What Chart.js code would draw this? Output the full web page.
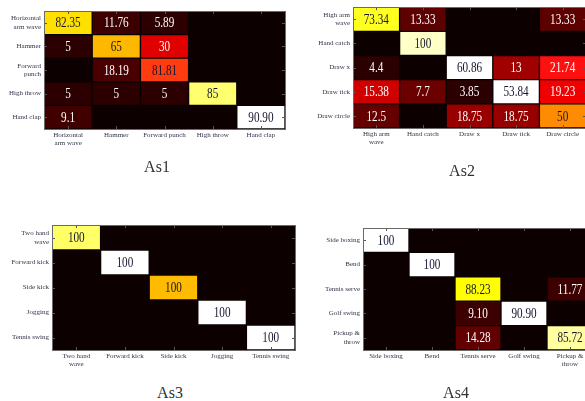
<!DOCTYPE html>
<html>
<head>
<meta charset="utf-8">
<script src="https://cdn.jsdelivr.net/npm/chart.js@4/dist/chart.umd.min.js"></script>
<style>
  html, body { margin: 0; padding: 0; background: #fff; width: 585px; height: 401px; overflow: hidden; position: relative; }
  canvas { position: absolute; }
  .caption { position: absolute; font-family: "Liberation Serif", serif; font-size: 16px; color: #333; transform: translateX(-50%); line-height: 1; }
</style>
</head>
<body>
<canvas id="as1" width="305" height="160" style="left:0;top:0"></canvas>
<canvas id="as2" width="310" height="160" style="left:300px;top:0"></canvas>
<canvas id="as3" width="310" height="165" style="left:0;top:212px"></canvas>
<canvas id="as4" width="310" height="165" style="left:300px;top:212px"></canvas>
<div class="caption" style="left:157px;top:159px">As1</div>
<div class="caption" style="left:462px;top:163px">As2</div>
<div class="caption" style="left:170px;top:385px">As3</div>
<div class="caption" style="left:456px;top:385px">As4</div>
<script>
// --- As1 ---
const as1Rows = [['Horizontal', 'arm wave'], 'Hammer', ['Forward', 'punch'], 'High throw', 'Hand clap'];
const as1Cols = [['Horizontal', 'arm wave'], 'Hammer', 'Forward punch', 'High throw', 'Hand clap'];
const as1Values = [
  ['82.35', '11.76', '5.89', '', ''],
  ['5', '65', '30', '', ''],
  ['', '18.19', '81.81', '', ''],
  ['5', '5', '5', '85', ''],
  ['9.1', '', '', '', '90.90']
];
const as1Colors = [
  ['#ffe000', '#3c0000', '#2c0000', null, null],
  ['#2c0000', '#ffb800', '#e00000', null, null],
  [null, '#4a0000', '#ff3c10', null, null],
  ['#2c0000', '#2c0000', '#2c0000', '#ffff70', null],
  ['#400000', null, null, null, '#ffffff']
];

// --- As2 ---
const as2Rows = [['High arm', 'wave'], 'Hand catch', 'Draw x', 'Draw tick', 'Draw circle'];
const as2Cols = [['High arm', 'wave'], 'Hand catch', 'Draw x', 'Draw tick', 'Draw circle'];
const as2Values = [
  ['73.34', '13.33', '', '', '13.33'],
  ['', '100', '', '', ''],
  ['4.4', '', '60.86', '13', '21.74'],
  ['15.38', '7.7', '3.85', '53.84', '19.23'],
  ['12.5', '', '18.75', '18.75', '50']
];
const as2Colors = [
  ['#ffff20', '#5c0000', null, null, '#5c0000'],
  [null, '#ffffc8', null, null, null],
  ['#2a0000', null, '#ffffff', '#a00000', '#ff1010'],
  ['#d00000', '#6a0000', '#2a0000', '#ffffff', '#f00000'],
  ['#640000', null, '#980000', '#980000', '#ff8c00']
];

// --- As3 ---
const as3Rows = [['Two hand', 'wave'], 'Forward kick', 'Side kick', 'Jogging', 'Tennis swing'];
const as3Cols = [['Two hand', 'wave'], 'Forward kick', 'Side kick', 'Jogging', 'Tennis swing'];
const as3Values = [
  ['100', '', '', '', ''],
  ['', '100', '', '', ''],
  ['', '', '100', '', ''],
  ['', '', '', '100', ''],
  ['', '', '', '', '100']
];
const as3Colors = [
  ['#ffff66', null, null, null, null],
  [null, '#ffffff', null, null, null],
  [null, null, '#ffbb00', null, null],
  [null, null, null, '#ffffff', null],
  [null, null, null, null, '#ffffff']
];

// --- As4 ---
const as4Rows = ['Side boxing', 'Bend', 'Tennis serve', 'Golf swing', ['Pickup &', 'throw']];
const as4Cols = ['Side boxing', 'Bend', 'Tennis serve', 'Golf swing', ['Pickup &', 'throw']];
const as4Values = [
  ['100', '', '', '', ''],
  ['', '100', '', '', ''],
  ['', '', '88.23', '', '11.77'],
  ['', '', '9.10', '90.90', ''],
  ['', '', '14.28', '', '85.72']
];
const as4Colors = [
  ['#ffffff', null, null, null, null],
  [null, '#ffffff', null, null, null],
  [null, null, '#ffff00', null, '#3c0000'],
  [null, null, '#3c0000', '#ffffff', null],
  [null, null, '#600000', null, '#ffffa0']
];

const BG = '#0d0000';
const TICK_FONT = { family: '"Liberation Serif", serif', size: 7 };
const TICK_COLOR = '#33334a';

function isLight(hex) {
  const r = parseInt(hex.slice(1, 3), 16), g = parseInt(hex.slice(3, 5), 16), b = parseInt(hex.slice(5, 7), 16);
  return 0.299 * r + 0.587 * g + 0.114 * b > 100;
}

// black plot area, grey frame and small inward ticks
const frame = {
  id: 'frame',
  beforeDatasetsDraw(chart) {
    const { ctx, chartArea: a } = chart;
    ctx.save();
    ctx.fillStyle = BG;
    ctx.fillRect(a.left, a.top, a.width, a.height);
    ctx.restore();
  },
  afterDatasetsDraw(chart) {
    const { ctx, chartArea: a } = chart;
    const x = chart.scales.x, y = chart.scales.y;
    ctx.save();
    ctx.strokeStyle = '#555';
    ctx.lineWidth = 1;
    ctx.beginPath();
    for (let i = 0; i < 5; i++) {
      const px = Math.round(x.getPixelForValue(i)) + 0.5;
      ctx.moveTo(px, a.top); ctx.lineTo(px, a.top + 3);
      ctx.moveTo(px, a.bottom); ctx.lineTo(px, a.bottom - 3);
      const py = Math.round(y.getPixelForValue(i + 0.5)) + 0.5;
      ctx.moveTo(a.left, py); ctx.lineTo(a.left + 3, py);
      ctx.moveTo(a.right, py); ctx.lineTo(a.right - 3, py);
    }
    ctx.stroke();
    ctx.strokeStyle = '#6a6a6a';
    ctx.strokeRect(Math.round(a.left) + 0.5, Math.round(a.top) + 0.5, Math.round(a.width), Math.round(a.height));
    ctx.restore();
  }
};

// cell values written in the middle of each filled cell
const cellText = {
  id: 'cellText',
  afterDatasetsDraw(chart, args, opts) {
    const { ctx } = chart;
    ctx.save();
    ctx.font = '14px "Liberation Serif", serif';
    ctx.textAlign = 'center';
    ctx.textBaseline = 'middle';
    chart.data.datasets.forEach((ds, i) => {
      chart.getDatasetMeta(i).data.forEach((bar, j) => {
        const txt = opts.values[i][j];
        if (!txt) return;
        const p = bar.getCenterPoint();
        ctx.fillStyle = isLight(opts.colors[i][j]) ? '#141430' : '#ffffff';
        ctx.save();
        ctx.translate(p.x, p.y + 1);
        ctx.scale(0.8, 1);
        ctx.fillText(txt, 0, 0);
        ctx.restore();
      });
    });
    ctx.restore();
  }
};

function drawMatrix(id, rows, cols, values, colors, yWidth, xHeight, padTop, padRight) {
  const datasets = rows.map((r, i) => ({
    label: Array.isArray(r) ? r.join(' ') : r,
    data: cols.map((c, j) => Number(values[i][j]) > 0 ? [i, i + 1] : null),
    backgroundColor: colors[i].map(c => c || BG),
    borderColor: 'rgba(0,0,0,0.25)',
    borderWidth: 1,
    borderSkipped: false,
    grouped: false,
    barPercentage: 1,
    categoryPercentage: 1
  }));

  new Chart(document.getElementById(id), {
    type: 'bar',
    data: { labels: cols, datasets: datasets },
    options: {
      responsive: false,
      animation: false,
      layout: { padding: { top: padTop, right: padRight, left: 0, bottom: 0 } },
      plugins: {
        legend: { display: false },
        tooltip: { enabled: false },
        cellText: { values: values, colors: colors }
      },
      scales: {
        x: {
          type: 'category',
          grid: { display: false, drawTicks: false },
          border: { display: false },
          ticks: { font: TICK_FONT, color: TICK_COLOR, maxRotation: 0, autoSkip: false, padding: 2 },
          afterFit(scale) { scale.height = xHeight; }
        },
        y: {
          type: 'linear',
          min: 0,
          max: 5,
          reverse: true,
          grid: { display: false, drawTicks: false },
          border: { display: false },
          ticks: {
            stepSize: 0.5,
            autoSkip: false,
            maxTicksLimit: 20,
            font: TICK_FONT,
            color: TICK_COLOR,
            padding: 3,
            callback: v => Number.isInteger(v) ? '' : rows[Math.floor(v)]
          },
          afterFit(scale) { scale.width = yWidth; }
        }
      }
    },
    plugins: [frame, cellText]
  });
}

drawMatrix('as1', as1Rows, as1Cols, as1Values, as1Colors, 44, 31, 11, 20);
drawMatrix('as2', as2Rows, as2Cols, as2Values, as2Colors, 53, 32, 7, 24);
drawMatrix('as3', as3Rows, as3Cols, as3Values, as3Colors, 52, 27, 13, 15);
drawMatrix('as4', as4Rows, as4Cols, as4Values, as4Colors, 63, 27, 16, 17);
</script>
</body>
</html>
